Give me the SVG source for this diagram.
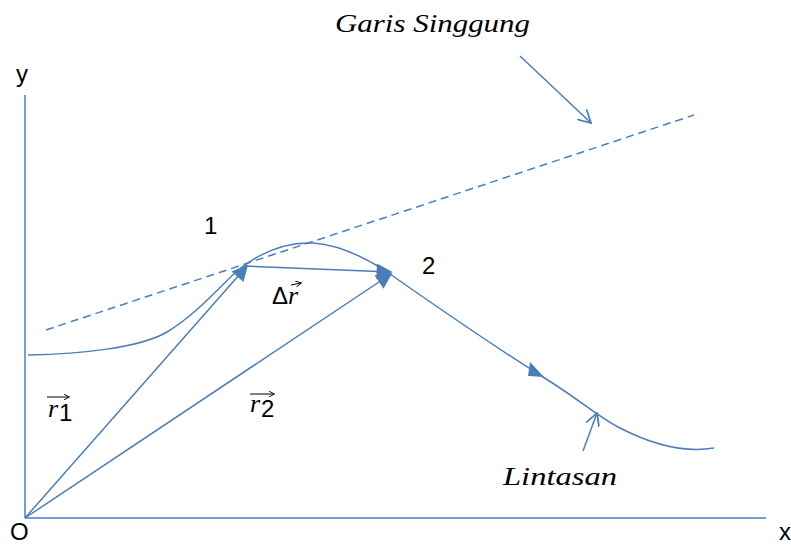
<svg xmlns="http://www.w3.org/2000/svg" width="791" height="545" viewBox="0 0 791 545">
<style>
.ln{fill:none;stroke:#4a7ebb;stroke-width:1.5}
.sans{font-family:"Liberation Sans","Open Sans",sans-serif;font-size:24px;fill:#000}
.it{font-family:"Liberation Serif","DejaVu Serif",serif;font-style:italic;font-size:26px;fill:#000}
</style>
<defs>
<marker id="big" viewBox="0 0 10 10" refX="9" refY="5" markerWidth="18" markerHeight="16" markerUnits="userSpaceOnUse" orient="auto"><path d="M0,0 L10,5 L0,10 z" fill="#4a7ebb"/></marker>
<marker id="open" viewBox="0 0 12 12" refX="11" refY="6" markerWidth="14" markerHeight="14" markerUnits="userSpaceOnUse" orient="auto"><path d="M0,0 L11,6 L0,12" fill="none" stroke="#4a7ebb" stroke-width="1.5"/></marker>
<marker id="small" viewBox="0 0 10 10" refX="9" refY="5" markerWidth="6" markerHeight="6" markerUnits="userSpaceOnUse" orient="auto"><path d="M0,0 L10,5 L0,10" fill="none" stroke="#000" stroke-width="1.5"/></marker>
</defs>
<g id="axes">
<line class="ln" x1="25" y1="95" x2="25" y2="518" stroke-width="2"/>
<line class="ln" x1="25" y1="518" x2="766" y2="518" stroke-width="2"/>
<text class="sans" x="16" y="82" font-size="22">y</text>
<text class="sans" x="10" y="540">O</text>
<text class="sans" x="779" y="540" font-size="22">x</text>
</g>
<g id="lintasan">
<path class="ln" d="M28,355 C80,354 140,348 167,332 C200,312 225,280 242,267 C265,250 290,242 313,243 C340,245 365,257 390,274 C430,302 500,350 543,377 C580,400 600,418 620,428 C655,446 685,453 714,448"/>
<path d="M530,362 L544,377 L528,376 z" fill="#4a7ebb"/>
<text class="it" x="503" y="485" textLength="114" lengthAdjust="spacingAndGlyphs">Lintasan</text>
</g>
<g id="garis-singgung">
<line class="ln" x1="46" y1="330" x2="694" y2="115" stroke-dasharray="8,5"/>
<text class="it" x="335" y="32" textLength="195" lengthAdjust="spacingAndGlyphs">Garis Singgung</text>
</g>
<g id="labels">
<text class="sans" x="204" y="234">1</text>
<text class="sans" x="422" y="274">2</text>
<text class="sans" x="272" y="304" font-size="21">Δ</text>
<text class="it" x="288" y="304" font-size="23">r</text>
<line x1="291" y1="285" x2="301" y2="283" stroke="#000" stroke-width="1" marker-end="url(#small)"/>
<text class="it" x="48" y="417" font-size="28">r</text>
<text class="sans" x="59" y="421" font-size="16">1</text>
<line x1="47" y1="397" x2="69" y2="397" stroke="#000" stroke-width="1" marker-end="url(#small)"/>
<text class="it" x="250" y="412" font-size="28">r</text>
<text class="sans" x="261" y="417" font-size="16">2</text>
<line x1="250" y1="394" x2="274" y2="394" stroke="#000" stroke-width="1" marker-end="url(#small)"/>
</g>
<g id="connectors">
<line class="ln" x1="25" y1="518" x2="247" y2="266" marker-end="url(#big)"/>
<line class="ln" x1="25" y1="518" x2="391" y2="274" marker-end="url(#big)"/>
<line class="ln" x1="244" y1="266" x2="391" y2="272" marker-end="url(#big)"/>
<line class="ln" x1="520" y1="56" x2="591" y2="123" marker-end="url(#open)"/>
<line class="ln" x1="583" y1="451" x2="597" y2="413" marker-end="url(#open)"/>
</g>
</svg>
